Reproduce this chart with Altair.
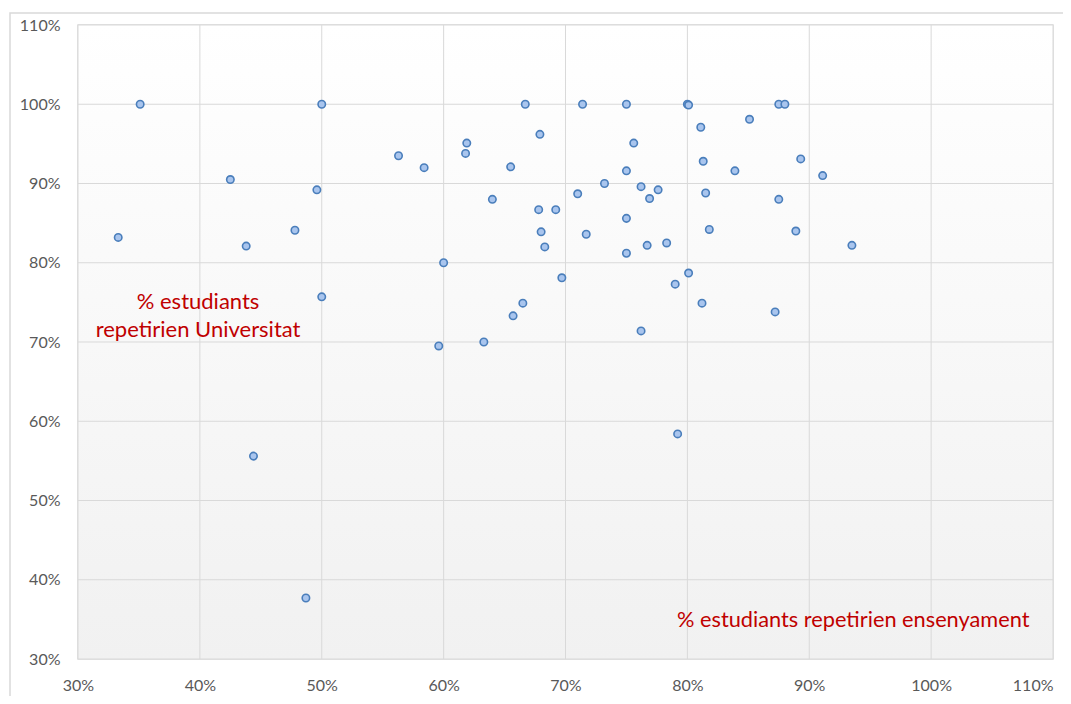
import altair as alt
import pandas as pd

# % estudiants repetirien ensenyament (x) and % estudiants repetirien Universitat (y)
x_pct = [35.1, 50.0, 42.5, 49.6, 33.3, 47.8, 43.8, 50.0, 44.4, 48.7,
         66.7, 71.4, 75.0, 80.0, 80.1, 81.1, 67.9, 61.9, 75.6, 56.3,
         61.8, 81.3, 58.4, 65.5, 75.0, 73.2, 76.2, 77.6, 76.9, 81.5,
         71.0, 64.0, 67.8, 69.2, 75.0, 81.8, 68.0, 71.7, 68.3, 76.7,
         78.3, 75.0, 60.0, 69.7, 80.1, 79.0, 66.5, 81.2, 65.7, 76.2,
         59.6, 63.3, 79.2, 87.5, 88.0, 85.1, 89.3, 83.9, 91.1, 87.5,
         88.9, 93.5, 87.2]
y_pct = [100.0, 100.0, 90.5, 89.2, 83.2, 84.1, 82.1, 75.7, 55.6, 37.7,
         100.0, 100.0, 100.0, 100.0, 99.9, 97.1, 96.2, 95.1, 95.1, 93.5,
         93.8, 92.8, 92.0, 92.1, 91.6, 90.0, 89.6, 89.2, 88.1, 88.8,
         88.7, 88.0, 86.7, 86.7, 85.6, 84.2, 83.9, 83.6, 82.0, 82.2,
         82.5, 81.2, 80.0, 78.1, 78.7, 77.3, 74.9, 74.9, 73.3, 71.4,
         69.5, 70.0, 58.4, 100.0, 100.0, 98.1, 93.1, 91.6, 91.0, 88.0,
         84.0, 82.2, 73.8]

tick_values = [0.3, 0.4, 0.5, 0.6, 0.7, 0.8, 0.9, 1.0, 1.1]

label_univ = ["% estudiants", "repetirien Universitat"]
label_ens = "% estudiants repetirien ensenyament"

df = pd.DataFrame({"x": [v / 100 for v in x_pct], "y": [v / 100 for v in y_pct]})
ticks_df = pd.DataFrame({"t": tick_values})
one = pd.DataFrame({"a": [0]})

W, H = 975, 634
FONT = "Lato"
GRID = "#d9d9d9"

xscale = alt.Scale(domain=[0.3, 1.1], nice=False, zero=False)
yscale = alt.Scale(domain=[0.3, 1.1], nice=False, zero=False)

axis_common = dict(
    format=".0%", values=tick_values, grid=False, ticks=False, domain=False,
    labelFont=FONT, labelFontSize=16, labelColor="#595959", labelPadding=18,
    title=None, labelFlush=False,
)

frame = alt.Chart(one).mark_rect(
    fillOpacity=0, stroke="#d9d9d9", strokeWidth=1.5
).encode(
    x=alt.value(-68), x2=alt.value(1200), y=alt.value(-12), y2=alt.value(900)
)

bg = alt.Chart(one).mark_rect(
    fill=alt.LinearGradient(
        gradient="linear",
        stops=[alt.GradientStop(color="#ffffff", offset=0),
               alt.GradientStop(color="#f1f1f1", offset=1)],
        x1=0, x2=0, y1=0, y2=1,
    )
).encode(x=alt.value(0), x2=alt.value(W), y=alt.value(0), y2=alt.value(H))

vgrid = alt.Chart(ticks_df).mark_rule(color=GRID, strokeWidth=1).encode(
    x=alt.X("t:Q", scale=xscale)
)
hgrid = alt.Chart(ticks_df).mark_rule(color=GRID, strokeWidth=1).encode(
    y=alt.Y("t:Q", scale=yscale)
)

x_axis = alt.Axis(
    **axis_common,
    labelAlign={"condition": {"test": "datum.value >= 1.09", "value": "right"},
                "value": "center"},
)

points = alt.Chart(df).mark_point(
    shape="circle", filled=True, fill="#a9c5ee", stroke="#4a7ebb",
    strokeWidth=1.6, size=55, opacity=1,
).encode(
    x=alt.X("x:Q", scale=xscale, axis=x_axis),
    y=alt.Y("y:Q", scale=yscale, axis=alt.Axis(**axis_common)),
)

txt1 = alt.Chart(one).mark_text(
    font=FONT, fontSize=22, color="#c00000", align="center",
    baseline="middle", lineHeight=28,
).encode(
    x=alt.datum(0.3985, scale=xscale), y=alt.datum(0.751, scale=yscale),
    text=alt.value(label_univ),
)

txt2 = alt.Chart(one).mark_text(
    font=FONT, fontSize=21.75, color="#c00000", align="left", baseline="middle",
).encode(
    x=alt.datum(0.7915, scale=xscale), y=alt.datum(0.349, scale=yscale),
    text=alt.value(label_ens),
)

chart = alt.layer(frame, bg, vgrid, hgrid, points, txt1, txt2).properties(
    width=W, height=H,
    autosize=alt.AutoSizeParams(type="none"),
    padding={"left": 70, "top": 17, "right": 10, "bottom": 37},
).configure_view(stroke="#d9d9d9", strokeWidth=1.5)

chart.save("out.html", embed_options={"renderer": "svg", "actions": False})
